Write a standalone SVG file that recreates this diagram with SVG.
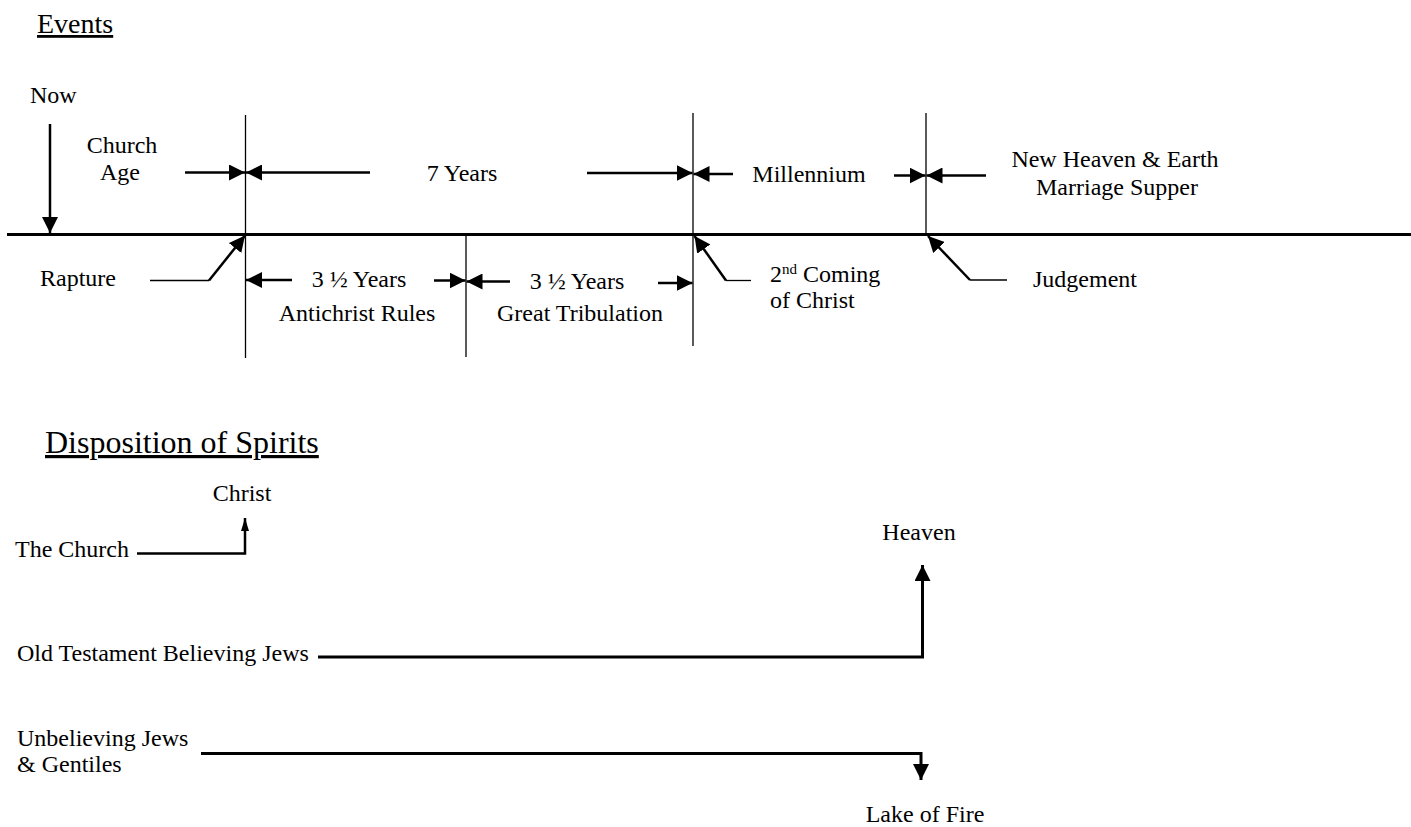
<svg xmlns="http://www.w3.org/2000/svg" width="1411" height="827" viewBox="0 0 1411 827">
<style>
text{font-family:"Liberation Serif","Times New Roman",serif;font-size:24px;fill:#000}
.h{font-size:32px;text-decoration:underline}
.c{text-anchor:middle}
.axis{stroke:#000;stroke-width:3;fill:none}
.tick{stroke:#000;stroke-width:1.3;fill:none}
.arr{stroke:#000;stroke-width:2.5;fill:none;marker-end:url(#ah)}
.thin{stroke:#000;stroke-width:1.3;fill:none}
.ptr{stroke:#000;stroke-width:2.5;fill:none;marker-end:url(#ah)}
.flow{stroke:#000;stroke-width:3;fill:none;marker-end:url(#ah)}
.small{stroke:#000;stroke-width:2.5;fill:none;marker-end:url(#ahs)}
</style>
<defs>
<marker id="ah" markerUnits="userSpaceOnUse" markerWidth="16" markerHeight="16" viewBox="0 0 15 15" refX="15" refY="7.5" orient="auto"><path d="M0,0 L15,7.5 L0,15 z" fill="#000"/></marker>
<marker id="ahs" markerUnits="userSpaceOnUse" markerWidth="13" markerHeight="9" viewBox="0 0 13 8" refX="13" refY="4" orient="auto"><path d="M0,0 L13,4 L0,8 z" fill="#000"/></marker>
</defs>
<rect width="1411" height="827" fill="#fff"/>

<g id="headings">
<text class="h" x="37" y="33" font-size="28" style="font-size:28px">Events</text>
<text class="h" x="45" y="453">Disposition of Spirits</text>
</g>

<g id="timeline">
<line class="axis" x1="7" y1="234.5" x2="1411" y2="234.5"/>
<line class="tick" x1="245.5" y1="115" x2="245.5" y2="358"/>
<line class="tick" x1="466" y1="234" x2="466" y2="357"/>
<line class="tick" x1="693" y1="113" x2="693" y2="346"/>
<line class="tick" x1="926" y1="113" x2="926" y2="234"/>
</g>

<g id="now"><text x="30" y="103">Now</text></g>
<g id="church-age"><text class="c" x="122" y="153">Church</text><text class="c" x="120" y="180">Age</text></g>
<g id="seven-years"><text class="c" x="462" y="181">7 Years</text></g>
<g id="millennium"><text class="c" x="809" y="182">Millennium</text></g>
<g id="new-heaven"><text class="c" x="1115" y="167">New Heaven &amp; Earth</text><text class="c" x="1117" y="195">Marriage Supper</text></g>
<g id="rapture"><text x="40" y="286">Rapture</text></g>
<g id="antichrist"><text class="c" x="359" y="287">3 ½ Years</text><text class="c" x="357" y="321">Antichrist Rules</text></g>
<g id="tribulation"><text class="c" x="577" y="289">3 ½ Years</text><text class="c" x="580" y="321">Great Tribulation</text></g>
<g id="second-coming"><text x="770" y="282">2<tspan font-size="15" dy="-8">nd</tspan><tspan dy="8"> Coming</tspan></text><text x="770" y="308">of Christ</text></g>
<g id="judgement"><text x="1033" y="287">Judgement</text></g>

<g id="christ"><text class="c" x="242" y="501">Christ</text></g>
<g id="the-church"><text x="15" y="557">The Church</text></g>
<g id="heaven"><text class="c" x="919" y="540">Heaven</text></g>
<g id="ot-jews"><text x="17" y="661">Old Testament Believing Jews</text></g>
<g id="unbelievers"><text x="17" y="746">Unbelieving Jews</text><text x="17" y="772">&amp; Gentiles</text></g>
<g id="lake-of-fire"><text class="c" x="925" y="822">Lake of Fire</text></g>

<g id="connectors">
<line class="arr" x1="50" y1="124" x2="50" y2="233"/>
<line class="arr" x1="185" y1="172.5" x2="245" y2="172.5"/>
<line class="arr" x1="370" y1="172.5" x2="246" y2="172.5"/>
<line class="arr" x1="587" y1="173" x2="692.5" y2="173"/>
<line class="arr" x1="733" y1="174" x2="693.5" y2="174"/>
<line class="arr" x1="894" y1="175.5" x2="925.5" y2="175.5"/>
<line class="arr" x1="986" y1="175.5" x2="926.5" y2="175.5"/>
<line class="arr" x1="292" y1="280" x2="246" y2="280"/>
<line class="arr" x1="434" y1="280.5" x2="465.5" y2="280.5"/>
<line class="arr" x1="510" y1="281.5" x2="466.5" y2="281.5"/>
<line class="arr" x1="658" y1="283" x2="692.5" y2="283"/>
<polyline class="thin" points="150,280.5 209,280.5"/>
<line class="ptr" x1="209" y1="280.5" x2="245" y2="235.5"/>
<polyline class="thin" points="751,280.5 726,280.5"/>
<line class="ptr" x1="726" y1="280.5" x2="694.5" y2="236"/>
<polyline class="thin" points="1007,280 970,280"/>
<line class="ptr" x1="970" y1="280" x2="928" y2="236"/>
<polyline class="small" points="137,553.5 245,553.5 245,518"/>
<polyline class="flow" points="318,657 922.5,657 922.5,565"/>
<polyline class="flow" points="201,753.5 921,753.5 921,780"/>
</g>
</svg>
